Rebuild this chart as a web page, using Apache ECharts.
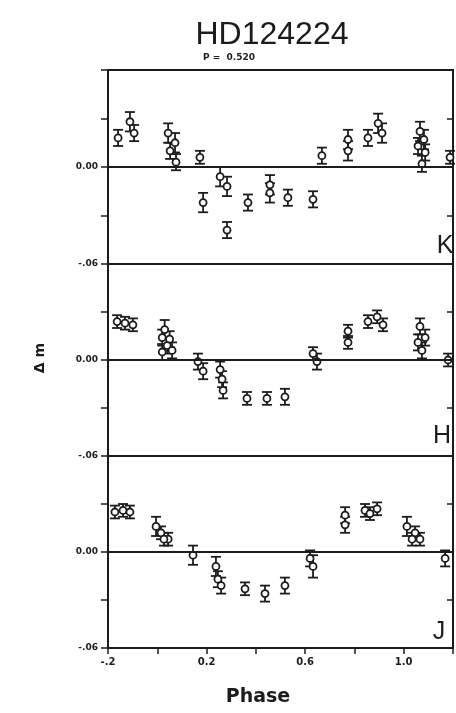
<!DOCTYPE html>
<html>
<head>
<meta charset="utf-8">
<script src="https://cdn.jsdelivr.net/npm/echarts@6/dist/echarts.min.js"></script>
<style>
  html, body { margin: 0; padding: 0; background: #fff; }
  #chart { width: 456px; height: 713px; }
</style>
</head>
<body>
<div id="chart"></div>
<script>
// [phase, delta m, error]
var kPoints = [
  [-0.159, 0.018, 0.005], [-0.111, 0.028, 0.006], [-0.094, 0.021, 0.005],
  [0.044, 0.021, 0.006], [0.072, 0.015, 0.006], [0.052, 0.010, 0.005], [0.076, 0.003, 0.005],
  [0.173, 0.006, 0.004], [0.186, -0.022, 0.006], [0.255, -0.006, 0.006], [0.283, -0.012, 0.006],
  [0.283, -0.039, 0.005], [0.368, -0.022, 0.005], [0.457, -0.011, 0.006], [0.457, -0.016, 0.006],
  [0.530, -0.019, 0.005], [0.632, -0.020, 0.005], [0.668, 0.007, 0.005], [0.774, 0.010, 0.006],
  [0.774, 0.017, 0.006], [0.855, 0.018, 0.005], [0.896, 0.027, 0.006], [0.912, 0.021, 0.006],
  [1.066, 0.022, 0.006], [1.082, 0.017, 0.006], [1.058, 0.013, 0.005], [1.087, 0.009, 0.005],
  [1.074, 0.002, 0.005], [1.188, 0.006, 0.004]
];
var hPoints = [
  [-0.163, 0.024, 0.004], [-0.131, 0.023, 0.004], [-0.099, 0.022, 0.004],
  [0.030, 0.019, 0.006], [0.020, 0.014, 0.005], [0.050, 0.013, 0.005], [0.040, 0.009, 0.005],
  [0.020, 0.005, 0.005], [0.060, 0.006, 0.005],
  [0.165, -0.001, 0.005], [0.186, -0.007, 0.005], [0.255, -0.006, 0.005], [0.263, -0.012, 0.005],
  [0.267, -0.019, 0.005], [0.364, -0.024, 0.004], [0.445, -0.024, 0.004], [0.518, -0.023, 0.005],
  [0.632, 0.004, 0.004], [0.648, -0.001, 0.005], [0.774, 0.018, 0.004], [0.774, 0.011, 0.004],
  [0.855, 0.024, 0.004], [0.892, 0.027, 0.004], [0.916, 0.022, 0.004],
  [1.066, 0.021, 0.005], [1.087, 0.014, 0.005], [1.058, 0.011, 0.005], [1.074, 0.006, 0.005],
  [1.180, 0.000, 0.004]
];
var jPoints = [
  [-0.172, 0.025, 0.004], [-0.139, 0.026, 0.004], [-0.111, 0.025, 0.004],
  [-0.005, 0.016, 0.006], [0.015, 0.012, 0.004], [0.044, 0.008, 0.004], [0.027, 0.008, 0.004],
  [0.145, -0.002, 0.006], [0.238, -0.009, 0.006], [0.246, -0.017, 0.005], [0.259, -0.021, 0.005],
  [0.356, -0.023, 0.004], [0.437, -0.026, 0.005], [0.518, -0.021, 0.005],
  [0.620, -0.004, 0.005], [0.632, -0.009, 0.007], [0.762, 0.023, 0.005], [0.762, 0.017, 0.005],
  [0.843, 0.026, 0.004], [0.863, 0.024, 0.004], [0.892, 0.027, 0.004],
  [1.013, 0.016, 0.006], [1.046, 0.012, 0.004], [1.066, 0.008, 0.004], [1.034, 0.008, 0.004],
  [1.168, -0.004, 0.005]
];
var bands = ['K', 'H', 'J'];
var phaseLabels = { '-2': '-.2', '2': '0.2', '6': '0.6', '10': '1.0' };

var ink = '#1c1c1c';
var dom = document.getElementById('chart');
var myChart = echarts.init(dom);

var gridTops = [70, 264, 456];
var gridHeights = [194, 192, 192];
var panels = [kPoints, hPoints, jPoints];

function errBar(params, api) {
  var x = api.value(0), y = api.value(1), e = api.value(2);
  var top = api.coord([x, y + e]);
  var bot = api.coord([x, y - e]);
  var w = 5;
  var st = { stroke: ink, lineWidth: 1.8 };
  return {
    type: 'group',
    children: [
      { type: 'line', shape: { x1: top[0], y1: top[1], x2: bot[0], y2: bot[1] }, style: st },
      { type: 'line', shape: { x1: top[0] - w, y1: top[1], x2: top[0] + w, y2: top[1] }, style: st },
      { type: 'line', shape: { x1: bot[0] - w, y1: bot[1], x2: bot[0] + w, y2: bot[1] }, style: st }
    ]
  };
}

var grids = [], xAxes = [], yAxes = [], series = [];
for (var i = 0; i < 3; i++) {
  grids.push({
    left: 108, width: 345, top: gridTops[i], height: gridHeights[i],
    show: true, borderColor: ink, borderWidth: 2, backgroundColor: 'transparent'
  });
  var last = (i === 2);
  xAxes.push({
    gridIndex: i, type: 'value', min: -0.2, max: 1.2, interval: 0.2, position: 'bottom',
    axisLine: { show: false, onZero: false },
    axisTick: { show: last, inside: false, length: 6, lineStyle: { color: ink, width: 1.5 } },
    axisLabel: {
      show: last, margin: 9, color: ink, fontSize: 10, fontWeight: 'bold', fontFamily: 'DejaVu Sans',
      formatter: function (v) { return phaseLabels[String(Math.round(v * 10))] || ''; }
    },
    splitLine: { show: false }
  });
  yAxes.push({
    gridIndex: i, type: 'value', min: -0.06, max: 0.06, interval: 0.03, position: 'left',
    axisLine: { show: false, onZero: false },
    axisTick: { show: true, inside: false, length: 7, lineStyle: { color: ink, width: 1.5 } },
    axisLabel: {
      margin: 10, color: ink, fontSize: 9, fontWeight: 'bold', fontFamily: 'DejaVu Sans',
      formatter: function (v) {
        var r = Math.round(v * 100);
        if (r === 0) return '0.00';
        if (r === -6) return '-.06';
        return '';
      }
    },
    splitLine: { show: false }
  });
  yAxes.push({
    gridIndex: i, type: 'value', min: -0.06, max: 0.06, interval: 0.03, position: 'right',
    axisLine: { show: false, onZero: false },
    axisTick: { show: true, inside: true, length: 6, lineStyle: { color: ink, width: 1.5 } },
    axisLabel: { show: false },
    splitLine: { show: false }
  });
  series.push({
    name: bands[i] + ' err', type: 'custom', xAxisIndex: i, yAxisIndex: i * 2,
    renderItem: errBar, data: panels[i], z: 2,
    markLine: {
      silent: true, symbol: 'none', label: { show: false },
      lineStyle: { color: ink, width: 2, type: 'solid' },
      data: [{ yAxis: 0 }]
    }
  });
  series.push({
    name: bands[i], type: 'scatter', xAxisIndex: i, yAxisIndex: i * 2,
    symbol: 'circle', symbolSize: 7,
    itemStyle: { color: '#fff', borderColor: ink, borderWidth: 1.8, opacity: 1 },
    data: panels[i], z: 3
  });
}

var letterPos = [[445, 246], [442, 436], [439, 632]];
var graphics = [
  { type: 'text', x: 272, y: 35, style: { text: 'HD124224', align: 'center', verticalAlign: 'middle', font: '32px "Liberation Sans"', fill: ink } },
  { type: 'text', x: 203, y: 58, style: { text: 'P =  0.520', align: 'left', verticalAlign: 'middle', font: 'bold 9px "DejaVu Sans"', fill: ink } },
  { type: 'text', x: 40, y: 358, rotation: Math.PI / 2, style: { text: 'Δ m', align: 'center', verticalAlign: 'middle', font: 'bold 14px "DejaVu Sans"', fill: ink } },
  { type: 'text', x: 258, y: 697, style: { text: 'Phase', align: 'center', verticalAlign: 'middle', font: 'bold 19px "DejaVu Sans"', fill: ink } }
];
for (var j = 0; j < 3; j++) {
  graphics.push({ type: 'text', x: letterPos[j][0], y: letterPos[j][1], z: 10,
    style: { text: bands[j], align: 'center', verticalAlign: 'middle', font: '25px "Liberation Sans"', fill: ink } });
}

var option = {
  backgroundColor: '#fff',
  animation: false,
  grid: grids,
  xAxis: xAxes,
  yAxis: yAxes,
  series: series,
  graphic: graphics
};
myChart.setOption(option, true);
</script>
</body>
</html>
